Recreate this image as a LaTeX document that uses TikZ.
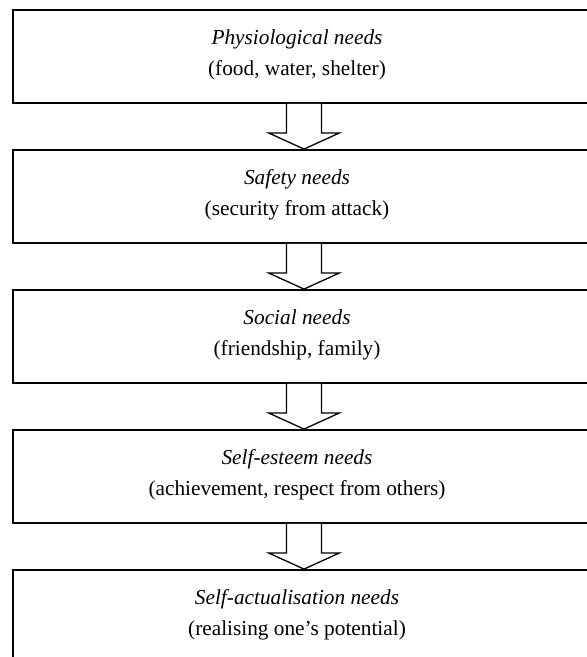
\documentclass[tikz,border=0pt]{standalone}
\usepackage{fontspec}
\setmainfont{Liberation Serif}
\usetikzlibrary{calc}
\begin{document}
\begin{tikzpicture}[x=1pt,y=-1pt,
  box/.style={draw=black,line width=1.8pt,minimum width=582pt,minimum height=93pt,inner sep=0pt},
  txt/.style={align=center,font=\fontsize{21.3pt}{30.5pt}\selectfont,inner sep=0pt},
  blockarrow/.style={draw=black,line width=1.3pt,line join=miter,fill=white}]
\useasboundingbox (0,0) rectangle (587,657);
\node[box] (b1) at (304,56.5) {};
\node[box] (b2) at (304,196.5) {};
\node[box] (b3) at (304,336.5) {};
\node[box] (b4) at (304,476.5) {};
\node[box] (b5) at (304,616.5) {};
\node[txt] (t1) at (297,55) {\textit{Physiological needs}\\(food, water, shelter)};
\node[txt] (t2) at (297,195) {\textit{Safety needs}\\(security from attack)};
\node[txt] (t3) at (297,335) {\textit{Social needs}\\(friendship, family)};
\node[txt] (t4) at (297,475) {\textit{Self-esteem needs}\\(achievement, respect from others)};
\node[txt] (t5) at (297,615) {\textit{Self-actualisation needs}\\(realising one’s potential)};
\foreach \a/\b in {b1/b2,b2/b3,b3/b4,b4/b5}{
  \draw[blockarrow] ($(\a.south)+(-17.5,0)$) -- ($(\a.south)+(-17.5,29)$) -- ($(\a.south)+(-35.5,29)$)
    -- (\b.north) -- ($(\a.south)+(35.5,29)$) -- ($(\a.south)+(17.5,29)$) -- ($(\a.south)+(17.5,0)$);
}
\end{tikzpicture}
\end{document}
